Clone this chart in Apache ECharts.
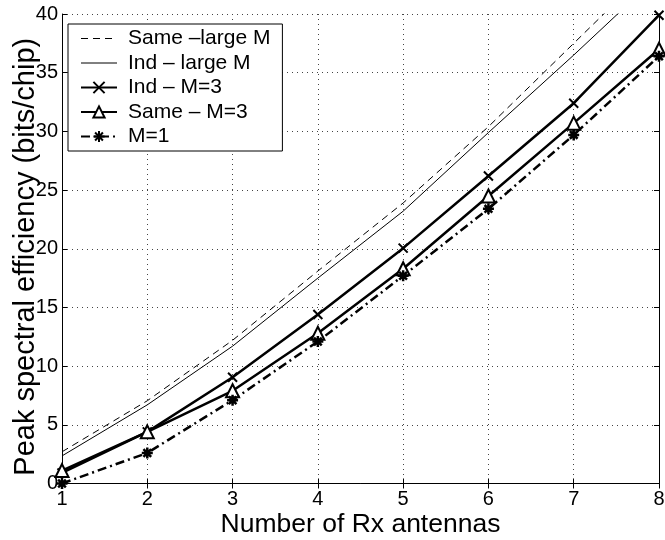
<!DOCTYPE html>
<html><head><meta charset="utf-8">
<script src="https://cdn.jsdelivr.net/npm/echarts@6/dist/echarts.min.js"></script>
<style>html,body{margin:0;padding:0;background:#fff}#c{width:665px;height:540px}</style>
</head><body><div id="c"></div>
<script>
const categories = [1, 2, 3, 4, 5, 6, 7, 8];
const sameLargeM = [2.7, 7.05, 12.2, 18.1, 23.9, 30.4, 37.5, 44.6];
const indLargeM  = [2.35, 6.7, 11.7, 17.5, 23.2, 29.9, 36.5, 43.3];
const indM3      = [0.9, 4.4, 9.05, 14.4, 20.05, 26.2, 32.4, 39.9];
const sameM3     = [1.1, 4.4, 7.9, 12.8, 18.3, 24.5, 30.7, 37.0];
const m1         = [0.0, 2.6, 7.1, 12.1, 17.7, 23.4, 29.7, 36.4];
const yTicks = [0, 5, 10, 15, 20, 25, 30, 35, 40];
const names = ['Same \u2013large M', 'Ind \u2013 large M', 'Ind \u2013 M=3', 'Same \u2013 M=3', 'M=1'];

const FONT = 'Liberation Sans';
const pairs = a => a.map((v, i) => [categories[i], v]);
const crossPath = 'path://M0,0L10,10M10,0L0,10';
const starPath = 'path://M5,0L5,10M0,5L10,5M1.5,1.5L8.5,8.5M8.5,1.5L1.5,8.5';

const chart = echarts.init(document.getElementById('c'), null, {renderer: 'canvas'});
const axisBase = {min: 1, max: 8, interval: 1, type: 'value'};
chart.setOption({
  animation: false,
  backgroundColor: '#fff',
  textStyle: {fontFamily: FONT},
  grid: {left: 62, right: 6, top: 14, bottom: 56.5, show: false, containLabel: false, outerBoundsMode: 'none'},
  legend: {
    orient: 'vertical', left: 68, top: 24,
    padding: [4, 12, 4, 12],
    backgroundColor: '#fff', borderColor: '#000', borderWidth: 1,
    itemWidth: 36, itemHeight: 14, itemGap: 3.5,
    textStyle: {fontFamily: FONT, fontSize: 21, color: '#000', padding: [0, 0, 0, 6]},
    data: [
      {name: names[0], itemStyle: {opacity: 0}, lineStyle: {width: 1}},
      {name: names[1], itemStyle: {opacity: 0}, lineStyle: {width: 1}},
      {name: names[2]}, {name: names[3]}, {name: names[4]}
    ]
  },
  xAxis: [{
    ...axisBase, position: 'bottom',
    name: 'Number of Rx antennas', nameLocation: 'middle', nameGap: 28, nameMoveOverlap: false,
    nameTextStyle: {fontFamily: FONT, fontSize: 26.5, color: '#000'},
    axisLine: {lineStyle: {color: '#000', width: 1}},
    axisTick: {inside: true, length: 5, lineStyle: {color: '#000'}},
    axisLabel: {fontFamily: FONT, fontSize: 20, color: '#000', margin: 6},
    splitLine: {show: true, lineStyle: {type: [1, 4], color: '#444', width: 1}}
  }, {
    ...axisBase, position: 'top',
    axisLine: {lineStyle: {color: '#000', width: 1}},
    axisTick: {inside: true, length: 5, lineStyle: {color: '#000'}},
    axisLabel: {show: false}, splitLine: {show: false}
  }],
  yAxis: [{
    type: 'value', min: 0, max: 40, interval: 5, position: 'left',
    name: 'Peak spectral efficiency (bits/chip)', nameLocation: 'middle', nameGap: 22, nameMoveOverlap: false,
    nameTextStyle: {fontFamily: FONT, fontSize: 29, color: '#000', padding: [0, 16, 0, 0]},
    axisLine: {show: true, lineStyle: {color: '#000', width: 1}},
    axisTick: {show: true, inside: true, length: 5, lineStyle: {color: '#000'}},
    axisLabel: {fontFamily: FONT, fontSize: 20, color: '#000', margin: 4,
      formatter: v => yTicks.includes(v) ? String(v) : ''},
    splitLine: {show: true, lineStyle: {type: [1, 4], color: '#444', width: 1}}
  }, {
    type: 'value', min: 0, max: 40, interval: 5, position: 'right',
    axisLine: {show: true, lineStyle: {color: '#000', width: 1}},
    axisTick: {show: true, inside: true, length: 5, lineStyle: {color: '#000'}},
    axisLabel: {show: false}, splitLine: {show: false}
  }],
  series: [
    {name: names[0], type: 'line', data: pairs(sameLargeM), clip: true,
     symbol: 'none', lineStyle: {color: '#000', width: 1, type: [7, 5]}, itemStyle: {color: '#000'}},
    {name: names[1], type: 'line', data: pairs(indLargeM), clip: true,
     symbol: 'none', lineStyle: {color: '#000', width: 1}, itemStyle: {color: '#000'}},
    {name: names[2], type: 'line', data: pairs(indM3), clip: false,
     symbol: crossPath, symbolSize: 9, showAllSymbol: true,
     lineStyle: {color: '#000', width: 2.5},
     itemStyle: {color: 'none', borderColor: '#000', borderWidth: 2}},
    {name: names[3], type: 'line', data: pairs(sameM3), clip: false,
     symbol: 'triangle', symbolSize: 13, showAllSymbol: true,
     lineStyle: {color: '#000', width: 2.5},
     itemStyle: {color: '#fff', borderColor: '#000', borderWidth: 2}},
    {name: names[4], type: 'line', data: pairs(m1), clip: false,
     symbol: starPath, symbolSize: 11, showAllSymbol: true,
     lineStyle: {color: '#000', width: 2.5, type: [9, 4, 2, 4]},
     itemStyle: {color: '#000', borderColor: '#000', borderWidth: 2.5}}
  ]
});
</script></body></html>
